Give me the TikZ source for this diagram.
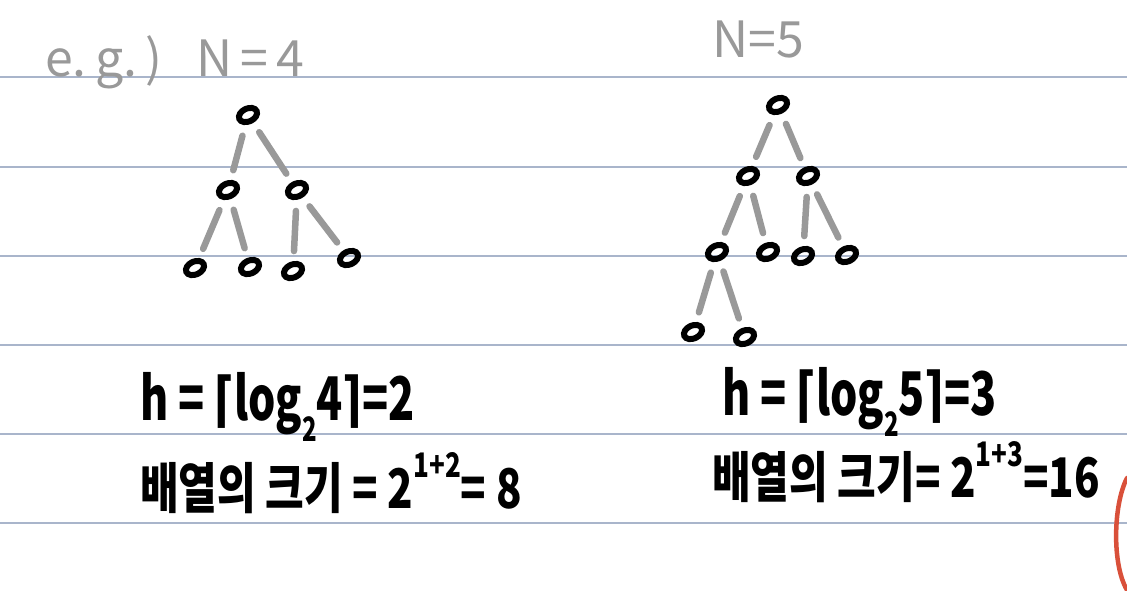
\documentclass[tikz,border=0pt]{standalone}
\usepackage{fontspec}
\usepackage{graphicx}
\setmainfont{Noto Sans CJK KR}
\newfontfamily\symfont{DejaVu Sans}
\usetikzlibrary{shapes.geometric}
\definecolor{ruleline}{HTML}{A9B5CB}
\definecolor{penGray}{HTML}{999999}
\definecolor{penRed}{HTML}{D9503A}
\newcommand{\tallbox}[2][1.4]{\scalebox{1}[#1]{#2}}
\newcommand{\lowtwo}{\raisebox{-0.35em}{\fontsize{24}{24}\selectfont 2}}
\newcommand{\hightxt}[1]{\raisebox{0.55em}{\fontsize{26}{26}\selectfont #1}}

\begin{document}
\begin{tikzpicture}[x=1pt, y=-1pt,
    nd/.style={draw, ellipse, line width=6pt, minimum width=19pt, minimum height=13pt, inner sep=0pt, rotate=25},
    br/.style={draw=penGray, line width=6.5pt, line cap=round, shorten <=11pt, shorten >=10pt},
    note/.style={anchor=base west, inner sep=0pt, font=\fontsize{43}{43}\selectfont\bfseries},
    size note/.style={anchor=base west, inner sep=0pt, font=\fontsize{42}{42}\selectfont\bfseries},
    grey note/.style={anchor=base west, inner sep=0pt, text=penGray, font=\fontsize{50}{50}\selectfont}]

    % paper and ruled lines
    \fill[white] (0,0) rectangle (1127,591);
    \useasboundingbox (0,0) rectangle (1127,591);
    \foreach \y in {77.5,166.5,255.5,344.5,433.5,522.5}
        \draw[ruleline, line width=2pt] (0,\y) -- (1127,\y);

    % N = 4
    \node[grey note] (titleA) at (45,77) {e.\,g.\,)\ \ \ N\,=\,4};
    \node[nd] (l0) at (248,115) {};
    \node[nd] (l1a) at (228,190) {};
    \node[nd] (l1b) at (297,190) {};
    \node[nd] (l2a) at (195,268) {};
    \node[nd] (l2b) at (250,267) {};
    \node[nd] (l2c) at (293,271) {};
    \node[nd] (l2d) at (349,258) {};
    \draw[br] (l0) -- (l1a);
    \draw[br] (l0) -- (l1b);
    \draw[br] (l1a) -- (l2a);
    \draw[br] (l1a) -- (l2b);
    \draw[br] (l1b) -- (l2c);
    \draw[br] (l1b) -- (l2d);

    % N = 5
    \node[grey note] (titleB) at (712,58) {N=5};
    \node[nd] (r0) at (778,105) {};
    \node[nd] (r1a) at (748,176) {};
    \node[nd] (r1b) at (808,176) {};
    \node[nd] (r2a) at (717,252) {};
    \node[nd] (r2b) at (768,252) {};
    \node[nd] (r2c) at (803,256) {};
    \node[nd] (r2d) at (847,255) {};
    \node[nd] (r3a) at (693,332) {};
    \node[nd] (r3b) at (745,337) {};
    \draw[br] (r0) -- (r1a);
    \draw[br] (r0) -- (r1b);
    \draw[br] (r1a) -- (r2a);
    \draw[br] (r1a) -- (r2b);
    \draw[br] (r1b) -- (r2c);
    \draw[br] (r1b) -- (r2d);
    \draw[br] (r2a) -- (r3a);
    \draw[br] (r2a) -- (r3b);

    % height and array size
    \node[note] (hA) at (140,420) {\tallbox{h = {\symfont ⌈}log\lowtwo 4{\symfont ⌉}=2}};
    \node[size note] (sizeA) at (140,508) {\tallbox[1.3]{배열의 크기 = 2\hightxt{1+2}= 8}};
    \node[note] (hB) at (722,415) {\tallbox{h = {\symfont ⌈}log\lowtwo 5{\symfont ⌉}=3}};
    \node[size note] (sizeB) at (712,497) {\tallbox[1.3]{배열의 크기= 2\hightxt{1+3}=16}};

    % red mark at the edge
    \draw[penRed, line width=4.5pt, line cap=round] (1127,478) .. controls (1113,505) and (1112,565) .. (1127,590);
\end{tikzpicture}
\end{document}
